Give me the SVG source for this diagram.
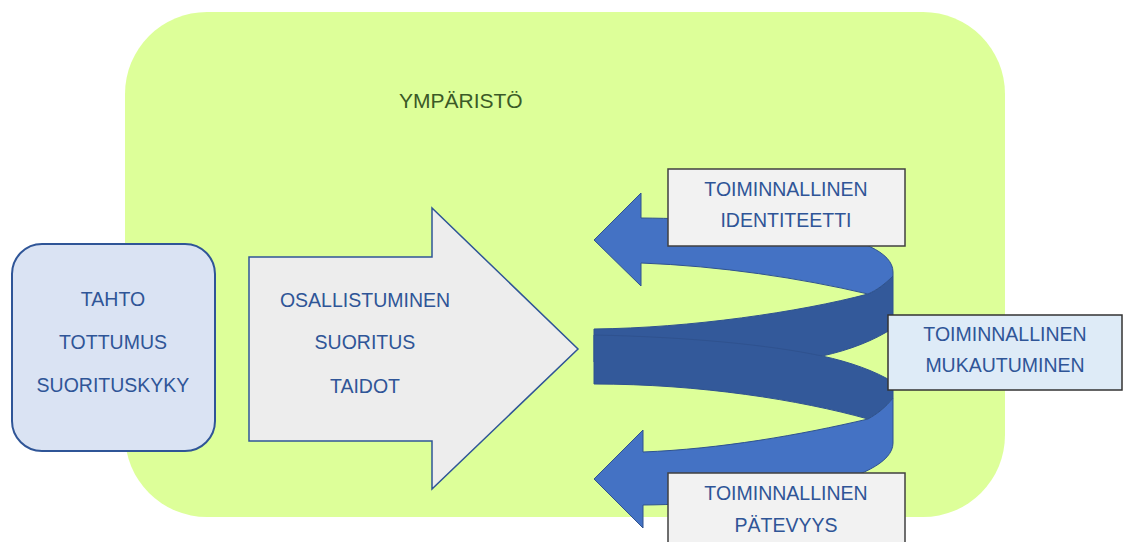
<svg xmlns="http://www.w3.org/2000/svg" width="1124" height="542" viewBox="0 0 1124 542">
  <style>
    .t { font-family: "Liberation Sans", Arial, sans-serif; font-size: 19.5px; fill: #2F5597; text-anchor: middle; }
    .env { font-family: "Liberation Sans", Arial, sans-serif; font-size: 21px; fill: #3B5A27; }
    .lbl { fill: #F2F2F2; stroke: #404040; stroke-width: 1.5; }
    .lblb { fill: #DEEBF7; stroke: #333333; stroke-width: 1.5; }
    .light { fill: #4472C4; stroke: #2F528F; stroke-width: 1; }
    .dark { fill: #33599A; stroke: #2F528F; stroke-width: 1; }
  </style>
  <rect width="1124" height="542" fill="#FFFFFF"/>
  <g id="environment">
    <rect x="125" y="12" width="880" height="505" rx="82" ry="82" fill="#DDFF99"/>
    <text class="env" x="399" y="108">YMPÄRISTÖ</text>
  </g>
  <g id="person">
    <rect x="12" y="244" width="203" height="207" rx="30" ry="30" fill="#DAE3F3" stroke="#2F5597" stroke-width="2"/>
    <text class="t" x="113" y="306">TAHTO</text>
    <text class="t" x="113" y="349">TOTTUMUS</text>
    <text class="t" x="113" y="392">SUORITUSKYKY</text>
  </g>
  <g id="occupation">
    <polygon points="249,257 432,257 432,208 578,349 432,489 432,441 249,441" fill="#EDEDED" stroke="#2F5597" stroke-width="1.5"/>
    <text class="t" x="365" y="307">OSALLISTUMINEN</text>
    <text class="t" x="365" y="349">SUORITUS</text>
    <text class="t" x="365" y="393">TAIDOT</text>
  </g>
  <g id="connectors">
    <path class="dark" d="M594,329 C690,328 800,312 868,294 C877,290 885,284 893,276 L893,328 C875,340 850,350 822,356 C760,362 680,362 594,362 Z"/>
    <path class="light" d="M594,240 L641,193 L641,218 C760,219 893,232 893,272 L893,276 C885,284 877,290 868,294 C800,278 720,266 641,263 L641,286 Z"/>
    <path class="dark" d="M594,335 C690,337 770,345 822,356 C850,362 875,371 893,382 L893,398 C885,408 877,414 868,419 C800,400 700,384 594,384 Z"/>
    <path class="light" d="M594,479 L643,430 L643,452 C720,449 800,435 868,419 C877,414 885,408 893,398 L893,443 C893,482 760,504 643,505 L643,528 Z"/>
  </g>
  <g id="identity">
    <rect class="lbl" x="668" y="169" width="237" height="77"/>
    <text class="t" x="786" y="196">TOIMINNALLINEN</text>
    <text class="t" x="786" y="227">IDENTITEETTI</text>
  </g>
  <g id="adaptation">
    <rect class="lblb" x="888" y="315" width="234" height="75"/>
    <text class="t" x="1005" y="341">TOIMINNALLINEN</text>
    <text class="t" x="1005" y="372">MUKAUTUMINEN</text>
  </g>
  <g id="competence">
    <rect class="lbl" x="668" y="473" width="237" height="80"/>
    <text class="t" x="786" y="500">TOIMINNALLINEN</text>
    <text class="t" x="786" y="532">PÄTEVYYS</text>
  </g>
</svg>
